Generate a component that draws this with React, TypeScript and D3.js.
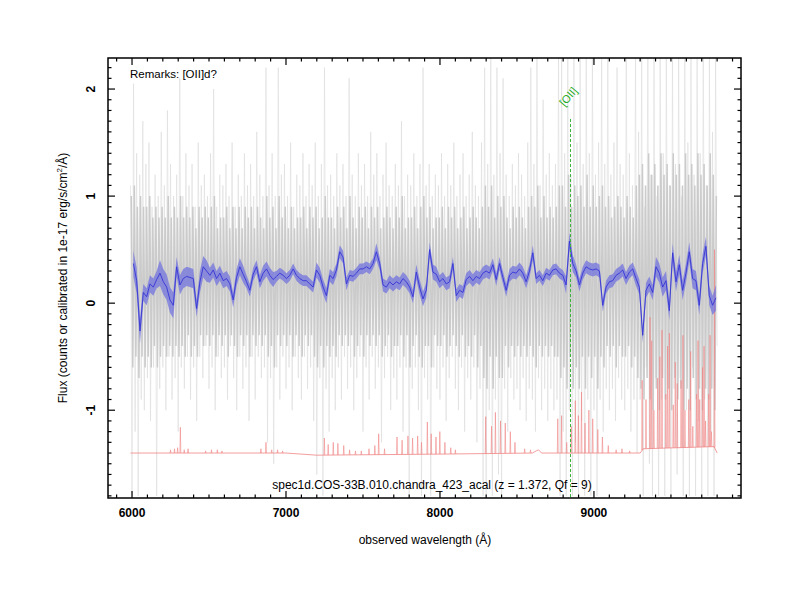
import React from "react";
import * as d3 from "d3";

// ---------- data ----------
// x tick labels (Å) and y tick labels (flux)
const xMajorTicks = [6000, 7000, 8000, 9000];
const yMajorTicks = [-1, 0, 1, 2];

// raw (gray) spectrum, outer excursions, sampled every 10 Å from 5990 Å
const GRAY_START = 5990;
const GRAY_STEP = 10;
const grayFlux = [
  1.1, -1.8, 2.05, -1.2, 1.4, -1.8, 1.2, -0.9, 1.7, -1.0,
  1.3, -0.7, 1.5, -1.1, 0.9, -0.6, 1.2, -1.8, 1.0, -0.8,
  1.6, -0.6, 1.1, -1.0, 1.8, -0.5, 1.3, -0.9, 1.0, -0.7,
  1.2, -1.2, 2.1, -0.6, 1.0, -0.8, 1.4, -0.5, 1.1, -0.9,
  1.3, -0.6, 0.9, -1.1, 1.5, -0.5, 1.1, -0.7, 1.2, -0.4,
  1.0, -0.8, 1.4, -0.6, 2.0, -1.0, 0.9, -0.5, 1.2, -0.7,
  1.1, -0.6, 1.3, -0.9, 1.0, -0.4, 1.5, -0.7, 0.9, -1.0,
  1.2, -0.5, 1.0, -0.8, 1.4, -0.6, 1.1, -1.1, 1.3, -0.5,
  1.0, -0.9, 1.6, -0.5, 1.2, -0.7, 1.0, -0.6, 2.2, -1.3,
  1.1, -0.7, 1.4, -1.5, 1.0, -0.6, 2.2, -0.9, 1.2, -0.5,
  1.3, -0.8, 1.0, -0.6, 1.5, -1.0, 0.9, -0.5, 1.2, -0.7,
  1.1, -0.9, 1.4, -0.5, 1.0, -0.8, 1.3, -0.6, 1.1, -1.1,
  1.5, -1.6, 1.0, -0.7, 1.3, -1.8, 2.2, -0.8, 1.1, -1.2,
  1.2, -0.7, 1.0, -1.0, 1.4, -0.6, 1.1, -0.9, 1.3, -0.5,
  1.0, -0.8, 2.1, -0.6, 1.2, -1.0, 1.0, -0.7, 1.4, -0.5,
  1.1, -1.2, 1.3, -0.6, 1.0, -0.9, 1.6, -0.5, 1.2, -0.8,
  1.4, -0.6, 1.0, -1.3, 1.2, -0.7, 1.5, -0.5, 1.1, -1.0,
  1.0, -0.7, 1.3, -0.9, 1.1, -0.6, 1.7, -1.2, 1.0, -0.6,
  1.2, -1.8, 1.1, -0.8, 1.4, -0.6, 1.0, -1.0, 1.3, -1.8,
  2.2, -0.7, 1.1, -0.9, 1.3, -1.8, 1.0, -0.6, 1.2, -0.8,
  1.1, -0.9, 1.4, -0.6, 1.0, -1.1, 1.3, -0.7, 1.1, -0.5,
  1.5, -0.8, 1.0, -1.0, 1.2, -0.6, 1.4, -1.2, 1.0, -0.7,
  1.2, -0.9, 1.6, -0.6, 1.1, -1.3, 1.0, -0.8, 1.5, -1.8,
  2.2, -1.8, 1.3, -1.0, 2.3, -1.8, 1.2, -0.9, 2.2, -1.6,
  1.4, -1.8, 2.1, -0.8, 1.2, -1.2, 1.0, -0.7, 1.3, -0.9,
  1.1, -0.8, 1.4, -1.0, 1.2, -0.7, 1.0, -1.1, 1.5, -0.8,
  2.2, -0.9, 1.3, -1.2, 2.3, -0.7, 1.1, -1.0, 1.9, -0.8,
  1.2, -1.1, 1.4, -0.8, 1.1, -1.0, 1.3, -0.9, 2.3, -1.8,
  2.3, -1.2, 1.4, -1.8, 2.3, -1.0, 1.2, -1.8, 2.3, -1.3,
  1.5, -1.8, 2.3, -1.1, 1.3, -1.8, 2.3, -0.9, 1.4, -1.8,
  2.3, -1.0, 1.2, -1.8, 1.5, -0.9, 2.3, -1.2, 1.3, -0.8,
  2.3, -1.0, 1.2, -0.8, 1.5, -1.1, 2.2, -0.7, 1.3, -0.9,
  1.2, -1.0, 2.3, -0.8, 1.4, -1.2, 1.1, -0.9, 2.3, -1.4,
  1.6, -0.9, 2.3, -1.8, 0.9, -0.6, 2.3, -1.5, 1.2, -1.8,
  2.3, -0.7, 1.0, -1.8, 2.3, -0.9, 1.4, -1.8, 2.3, -0.6,
  1.1, -1.8, 2.3, -0.8, 1.3, -1.6, 2.3, -0.7, 1.0, -1.8,
  2.3, -1.0, 1.5, -1.8, 2.3, -0.6, 1.2, -1.8, 2.3, -1.1,
  1.4, -1.8, 2.3, -0.9, 1.1, -1.8, 2.3, -1.2, 1.6, -1.8,
  2.3, -0.4,
];

// raw (gray) spectrum, dense core, sampled every 10 Å from 5995 Å
const CORE_START = 5995;
const CORE_STEP = 10;
const grayCore = [
  1.0, -0.6, 1.1, -0.5, 0.9, -0.7, 1.0, -0.5, 0.9, -0.6,
  0.9, -0.5, 1.0, -0.6, 0.8, -0.4, 0.9, -0.6, 0.8, -0.5,
  0.9, -0.4, 0.8, -0.5, 1.0, -0.4, 0.8, -0.5, 0.9, -0.4,
  0.8, -0.5, 1.0, -0.4, 0.8, -0.5, 0.9, -0.3, 0.8, -0.5,
  0.9, -0.4, 0.7, -0.5, 0.9, -0.3, 0.8, -0.4, 0.9, -0.3,
  0.8, -0.4, 0.9, -0.3, 1.0, -0.5, 0.7, -0.3, 0.8, -0.4,
  0.8, -0.3, 0.9, -0.5, 0.7, -0.3, 0.9, -0.4, 0.7, -0.5,
  0.9, -0.3, 0.7, -0.4, 0.9, -0.3, 0.8, -0.5, 0.9, -0.3,
  0.7, -0.4, 0.9, -0.3, 0.8, -0.4, 0.7, -0.3, 1.0, -0.5,
  0.8, -0.4, 0.9, -0.6, 0.7, -0.3, 1.0, -0.4, 0.8, -0.3,
  0.9, -0.4, 0.7, -0.3, 0.9, -0.5, 0.7, -0.3, 0.8, -0.4,
  0.8, -0.5, 0.9, -0.3, 0.7, -0.4, 0.9, -0.3, 0.8, -0.5,
  0.9, -0.6, 0.7, -0.4, 0.8, -0.6, 1.0, -0.4, 0.8, -0.5,
  0.8, -0.4, 0.7, -0.5, 0.9, -0.3, 0.8, -0.4, 0.9, -0.3,
  0.7, -0.4, 1.0, -0.3, 0.8, -0.5, 0.7, -0.4, 0.9, -0.3,
  0.8, -0.5, 0.9, -0.3, 0.7, -0.4, 0.9, -0.3, 0.8, -0.4,
  0.9, -0.3, 0.7, -0.5, 0.8, -0.4, 0.9, -0.3, 0.8, -0.5,
  0.7, -0.4, 0.9, -0.4, 0.8, -0.3, 1.0, -0.5, 0.7, -0.3,
  0.8, -0.6, 0.8, -0.4, 0.9, -0.3, 0.7, -0.5, 0.9, -0.6,
  1.0, -0.4, 0.8, -0.4, 0.9, -0.6, 0.7, -0.3, 0.8, -0.4,
  0.8, -0.4, 0.9, -0.3, 0.7, -0.5, 0.9, -0.4, 0.8, -0.3,
  0.9, -0.4, 0.7, -0.5, 0.8, -0.3, 0.9, -0.5, 0.7, -0.4,
  0.8, -0.5, 0.9, -0.3, 0.8, -0.6, 0.7, -0.4, 0.9, -0.7,
  1.1, -0.8, 0.9, -0.5, 1.1, -0.8, 0.8, -0.5, 1.0, -0.7,
  0.9, -0.7, 1.0, -0.4, 0.8, -0.6, 0.7, -0.4, 0.9, -0.5,
  0.8, -0.4, 0.9, -0.5, 0.8, -0.4, 0.7, -0.5, 0.9, -0.4,
  1.0, -0.5, 0.9, -0.6, 1.1, -0.4, 0.8, -0.5, 1.0, -0.4,
  0.8, -0.5, 0.9, -0.4, 0.8, -0.5, 0.9, -0.5, 1.1, -0.7,
  1.1, -0.6, 0.9, -0.8, 1.2, -0.5, 0.9, -0.8, 1.1, -0.6,
  1.0, -0.8, 1.1, -0.5, 0.9, -0.8, 1.2, -0.5, 0.9, -0.7,
  1.1, -0.5, 0.9, -0.8, 1.0, -0.5, 1.1, -0.6, 0.9, -0.4,
  1.0, -0.5, 0.8, -0.4, 0.9, -0.6, 1.0, -0.4, 0.9, -0.5,
  0.8, -0.5, 1.0, -0.4, 0.9, -0.6, 0.8, -0.5, 1.1, -0.7,
  1.2, -0.8, 1.3, -0.9, 1.1, -0.7, 1.4, -0.9, 1.2, -1.0,
  1.3, -0.8, 1.1, -1.0, 1.4, -0.7, 1.2, -0.9, 1.3, -0.8,
  1.1, -1.0, 1.4, -0.7, 1.2, -0.9, 1.3, -0.8, 1.1, -1.0,
  1.4, -0.8, 1.2, -1.0, 1.3, -0.7, 1.1, -0.9, 1.4, -0.8,
  1.2, -1.0, 1.3, -0.8, 1.1, -0.9, 1.4, -0.8, 1.2, -1.0,
  1.0,
];

// smoothed (blue) spectrum and its 1-sigma half-width, every 21.62 Å from 6008.6 Å
const BLUE_START = 6008.6;
const BLUE_STEP = 21.62;
const blueFlux = [
  0.37, 0.21, -0.26, 0.10, 0.06, 0.18, 0.15, 0.22, 0.28, 0.20,
  0.15, 0.03, -0.02, 0.34, 0.17, 0.23, 0.25, 0.24, 0.23, -0.05,
  0.20, 0.34, 0.30, 0.26, 0.31, 0.23, 0.28, 0.21, 0.23, 0.18,
  0.03, 0.24, 0.34, 0.27, 0.20, 0.12, 0.27, 0.34, 0.20, 0.28,
  0.32, 0.26, 0.22, 0.25, 0.28, 0.26, 0.23, 0.26, 0.32, 0.26,
  0.23, 0.21, 0.21, 0.18, 0.15, 0.31, 0.26, 0.15, 0.07, 0.26,
  0.23, 0.31, 0.48, 0.43, 0.18, 0.26, 0.25, 0.28, 0.32, 0.32,
  0.34, 0.32, 0.37, 0.48, 0.37, 0.17, 0.15, 0.20, 0.17, 0.20,
  0.18, 0.23, 0.20, 0.15, 0.06, 0.29, 0.15, 0.04, 0.12, 0.50,
  0.29, 0.27,
  0.20, 0.23, 0.18, 0.20, 0.37, 0.07, 0.12, 0.10, 0.22, 0.25,
  0.21, 0.25, 0.23, 0.28, 0.30, 0.28, 0.36, 0.22, 0.37, 0.24,
  0.12, 0.26, 0.29, 0.28, 0.32, 0.28, 0.20, 0.30, 0.47, 0.23,
  0.26, 0.21, 0.28, 0.26, 0.31, 0.32, 0.28, 0.26, 0.17, 0.58,
  0.37, 0.30, 0.17, 0.28, 0.34, 0.32, 0.31, 0.32, 0.30, -0.02,
  0.15, 0.20, 0.21, 0.26, 0.28, 0.31, 0.23, 0.29, 0.32, 0.23,
  0.15, -0.30, 0.12, 0.18, 0.10, 0.34, 0.28, 0.15, 0.21, -0.07,
  0.47, 0.20, 0.36, 0.12, 0.28, 0.48, 0.23, 0.21, -0.02, 0.37,
  0.53, 0.07, -0.02, 0.05,
];
const blueErr = [
  0.12, 0.12, 0.12, 0.08, 0.08, 0.08, 0.08, 0.08, 0.12, 0.12,
  0.12, 0.12, 0.12, 0.09, 0.09, 0.09, 0.09, 0.09, 0.09, 0.08,
  0.10, 0.10, 0.10, 0.07, 0.07, 0.07, 0.07, 0.07, 0.07, 0.07,
  0.07, 0.08, 0.08, 0.08, 0.06, 0.06, 0.06, 0.06, 0.06, 0.07,
  0.07, 0.07, 0.07, 0.05, 0.05, 0.05, 0.05, 0.05, 0.05, 0.05,
  0.05, 0.05, 0.05, 0.05, 0.05, 0.07, 0.07, 0.07, 0.07, 0.06,
  0.06, 0.06, 0.06, 0.06, 0.06, 0.05, 0.05, 0.05, 0.05, 0.05,
  0.05, 0.05, 0.05, 0.08, 0.06, 0.06, 0.06, 0.06, 0.06, 0.06,
  0.06, 0.06, 0.06, 0.06, 0.06, 0.07, 0.07, 0.07, 0.07, 0.07,
  0.07, 0.07,
  0.06, 0.06, 0.06, 0.06, 0.06, 0.06, 0.06, 0.06, 0.06, 0.06,
  0.06, 0.06, 0.06, 0.06, 0.06, 0.06, 0.06, 0.06, 0.06, 0.06,
  0.06, 0.06, 0.06, 0.06, 0.06, 0.06, 0.06, 0.06, 0.07, 0.05,
  0.05, 0.05, 0.05, 0.05, 0.05, 0.05, 0.05, 0.05, 0.08, 0.08,
  0.08, 0.06, 0.06, 0.06, 0.06, 0.06, 0.06, 0.06, 0.06, 0.06,
  0.06, 0.06, 0.06, 0.06, 0.06, 0.06, 0.06, 0.06, 0.06, 0.07,
  0.07, 0.07, 0.07, 0.07, 0.07, 0.09, 0.09, 0.09, 0.09, 0.09,
  0.09, 0.09, 0.09, 0.09, 0.09, 0.09, 0.09, 0.09, 0.09, 0.09,
  0.09, 0.09, 0.09, 0.12,
];

// sky (red) spectrum: continuum level and emission-line peaks
const skyBaseWave = [5990, 7000, 7200, 8000, 8600, 8625, 8640, 8660, 9300, 9320, 9780, 9800];
const skyBaseFlux = [-1.40, -1.40, -1.42, -1.41, -1.40, -1.38, -1.37, -1.40, -1.40, -1.36, -1.34, -1.40];
const skyLineWave = [
  6250, 6276, 6296, 6314, 6339, 6364, 6478, 6516, 6554, 6584,
  6837, 6870, 6907, 6945, 6978, 7249, 7274, 7307, 7337, 7375,
  7413, 7451, 7489, 7539, 7577, 7602, 7640, 7721, 7754, 7792,
  7822, 7855, 7880, 7918, 7943, 7974, 7999, 8032, 8070, 8100,
  8297, 8335, 8360, 8393, 8424, 8457, 8487, 8550, 8588, 8765,
  8790, 8823, 8853, 8879, 8899, 8919, 8942, 8967, 8992, 9025,
  9055, 9093, 9144, 9182, 9232, 9313, 9338, 9364, 9389, 9414,
  9442, 9467, 9490, 9515, 9541, 9566, 9591, 9616, 9642, 9667,
  9687, 9705, 9725, 9745, 9763, 9783,
  9375, 9428, 9478, 9528, 9578, 9628, 9676, 9715, 9754,
];
const skyLinePeak = [
  -1.37, -1.36, -1.35, -1.16, -1.37, -1.36, -1.38, -1.37, -1.37, -1.38,
  -1.36, -1.30, -1.37, -1.37, -1.38, -1.26, -1.32, -1.30, -1.31, -1.33,
  -1.37, -1.38, -1.38, -1.36, -1.33, -1.22, -1.36, -1.25, -1.28, -1.24,
  -1.26, -1.24, -1.30, -1.11, -1.22, -1.25, -1.20, -1.30, -1.35, -1.37,
  -1.06, -1.15, -1.02, -1.10, -1.12, -1.20, -1.30, -1.36, -1.37, -1.08,
  -1.05, -1.30, -1.15, -0.91, -1.05, -0.83, -1.12, -1.00, -1.08, -1.18,
  -1.25, -1.33, -1.37, -1.36, -1.38, -0.72, -0.90, -0.13, -1.00, -0.70,
  -0.25, -0.85, -0.28, -0.95, -0.75, -0.72, -1.00, -0.90, -1.15, -0.85,
  -0.90, -0.60, -1.10, -0.85, -1.20, 0.50,
  -0.35, -0.50, -0.40, -0.55, -0.30, -0.45, -0.35, -0.40, -0.30,
];

// emission line marker
const lineName = "[OII]";
const lineWave = 3727.4 * (1 + 1.372);
const lineTop = 1.72;

const titleText = "spec1d.COS-33B.010.chandra_423_acal (z = 1.372, Qf = 9)";
const remarkText = "Remarks: [OII]d?";

// ---------- layout ----------
const W = 800;
const H = 600;
const L = 108;
const R = 741;
const T = 58;
const B = 498;
const FONT = "'Liberation Sans', Arial, Helvetica, sans-serif";

type P = [number, number];

export default function App() {
  const x = d3.scaleLinear().domain([5844, 9955]).range([L, R]);
  const y = d3.scaleLinear().domain([-1.82, 2.29]).range([B, T]);

  const line = d3
    .line<P>()
    .x((d) => x(d[0]))
    .y((d) => y(d[1]));

  const grayPath = line(grayFlux.map((v, i) => [GRAY_START + i * GRAY_STEP, v] as P)) as string;
  const corePath = line(grayCore.map((v, i) => [CORE_START + i * CORE_STEP, v] as P)) as string;

  const bluePts = blueFlux.map((v, i) => ({ w: BLUE_START + i * BLUE_STEP, v, e: blueErr[i] }));
  const bandPath = d3
    .area<{ w: number; v: number; e: number }>()
    .x((d) => x(d.w))
    .y0((d) => y(d.v - d.e))
    .y1((d) => y(d.v + d.e))(bluePts) as string;
  const bluePath = d3
    .line<{ w: number; v: number; e: number }>()
    .x((d) => x(d.w))
    .y((d) => y(d.v))(bluePts) as string;

  const skyLevel = (w: number) => {
    const i = d3.bisectRight(skyBaseWave, w) - 1;
    if (i < 0) return skyBaseFlux[0];
    if (i >= skyBaseWave.length - 1) return skyBaseFlux[skyBaseWave.length - 1];
    const t = (w - skyBaseWave[i]) / (skyBaseWave[i + 1] - skyBaseWave[i]);
    return skyBaseFlux[i] + t * (skyBaseFlux[i + 1] - skyBaseFlux[i]);
  };
  const skyBasePath = line(skyBaseWave.map((w, i) => [w, skyBaseFlux[i]] as P)) as string;
  const skyLinePaths = skyLineWave.map((w, i) => {
    const base = skyLevel(w);
    return line([
      [w - 3, base],
      [w, skyLinePeak[i]],
      [w + 3, base],
    ]) as string;
  });

  const xMinor = d3.range(5900, 9901, 100);
  const yMinor = d3.range(-18, 23).map((k) => k / 10);

  const lx = Math.round(x(lineWave)) + 0.5;

  return (
    <svg
      width={W}
      height={H}
      style={{ position: "absolute", left: 0, top: 0, background: "#fff" }}
      fontFamily={FONT}
    >
      <defs>
        <clipPath id="plot">
          <rect x={L} y={T} width={R - L} height={B - T} />
        </clipPath>
      </defs>
      <rect x={0} y={0} width={W} height={H} fill="#fff" />
      <g clipPath="url(#plot)">
        <path d={grayPath} fill="none" stroke="#dcdcdc" strokeWidth={0.6} />
        <path d={corePath} fill="none" stroke="#cbcbcb" strokeWidth={1.5} />
        <path d={skyBasePath} fill="none" stroke="#f08484" strokeWidth={0.8} />
        {skyLinePaths.map((p, i) => (
          <path key={i} d={p} fill="none" stroke="#f08484" strokeWidth={0.6} />
        ))}
        <path d={bandPath} fill="#6c6ce0" fillOpacity={0.7} stroke="none" />
        <path d={bluePath} fill="none" stroke="#3535d5" strokeWidth={0.9} />
        <line
          x1={lx}
          x2={lx}
          y1={y(lineTop)}
          y2={B}
          stroke="#3cb43c"
          strokeWidth={1}
          strokeDasharray="3,2"
        />
      </g>
      <text
        x={lx - 6}
        y={107}
        fontSize={11}
        fill="#22aa22"
        transform={`rotate(-50, ${lx - 6}, 107)`}
      >
        {lineName}
      </text>
      <text x={130} y={78} fontSize={11.5} fill="#000">
        {remarkText}
      </text>
      <text x={432} y={489} fontSize={12} textAnchor="middle" fill="#000">
        {titleText}
      </text>

      {/* axes frame */}
      <rect x={L} y={T} width={R - L} height={B - T} fill="none" stroke="#000" strokeWidth={1.5} />
      {xMinor.map((w) => {
        const px = x(w);
        if (px < L || px > R) return null;
        const len = xMajorTicks.includes(w) ? 7 : 3.5;
        return (
          <g key={`xt${w}`}>
            <line x1={px} x2={px} y1={B} y2={B - len} stroke="#000" strokeWidth={1.2} />
            <line x1={px} x2={px} y1={T} y2={T + len} stroke="#000" strokeWidth={1.2} />
          </g>
        );
      })}
      {yMinor.map((v) => {
        const py = y(v);
        if (py < T || py > B) return null;
        const major = Math.abs(v - Math.round(v)) < 1e-6;
        const len = major ? 7 : 3.5;
        return (
          <g key={`yt${v}`}>
            <line x1={L} x2={L + len} y1={py} y2={py} stroke="#000" strokeWidth={1.2} />
            <line x1={R} x2={R - len} y1={py} y2={py} stroke="#000" strokeWidth={1.2} />
          </g>
        );
      })}
      {xMajorTicks.map((w) => (
        <text key={`xl${w}`} x={x(w)} y={517} fontSize={12} fontWeight="bold" textAnchor="middle">
          {w}
        </text>
      ))}
      {yMajorTicks.map((v) => (
        <text
          key={`yl${v}`}
          x={95}
          y={y(v)}
          fontSize={12}
          fontWeight="bold"
          textAnchor="middle"
          transform={`rotate(-90, 95, ${y(v)})`}
        >
          {v}
        </text>
      ))}
      <text x={425} y={544} fontSize={12} textAnchor="middle">
        observed wavelength (Å)
      </text>
      <text
        x={0}
        y={0}
        fontSize={12}
        textAnchor="middle"
        transform={`translate(67, 278) rotate(-90)`}
      >
        Flux (counts or calibrated in 1e-17 erg/s/cm
        <tspan dy={-5} fontSize={8}>
          2
        </tspan>
        <tspan dy={5}>/Å)</tspan>
      </text>
    </svg>
  );
}
